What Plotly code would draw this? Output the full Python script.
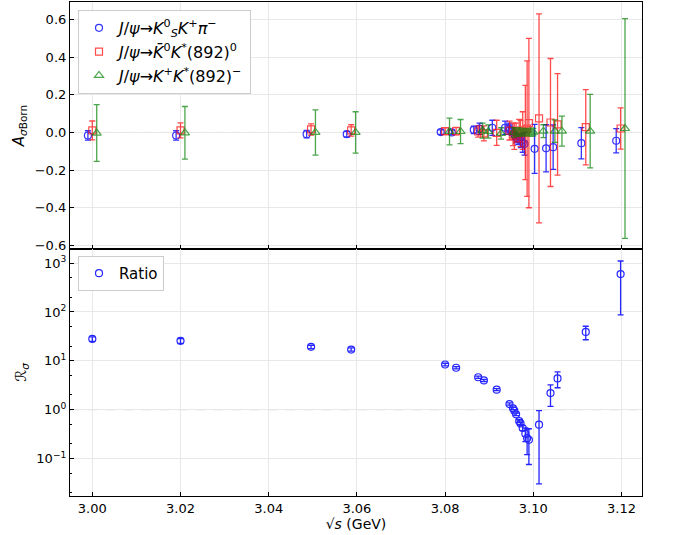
import plotly.graph_objects as go
from plotly.subplots import make_subplots

# DATA

energies = [3.0000, 3.0200, 3.0496, 3.0587, 3.0800, 3.0825, 3.0875, 3.0888, 3.0917,
            3.0946, 3.0954, 3.0957, 3.0961, 3.0968, 3.0971, 3.0976, 3.0982, 3.0986,
            3.0990, 3.1013, 3.1039, 3.1055, 3.1119, 3.1198]

asym_kskpi = [-0.016, -0.016, -0.009, -0.009, 0.002, 0.0, 0.014, 0.02, 0.025,
              0.025, 0.02, 0.015, 0.005, -0.015, -0.03, -0.035, -0.045, -0.055,
              -0.06, -0.087, -0.084, -0.078, -0.057, -0.044]
err_kskpi = [0.025, 0.025, 0.02, 0.015, 0.012, 0.012, 0.02, 0.03, 0.04,
             0.035, 0.03, 0.025, 0.02, 0.02, 0.025, 0.03, 0.035, 0.05,
             0.06, 0.13, 0.125, 0.118, 0.083, 0.064]

asym_k0kst0 = [0.011, 0.011, 0.016, 0.011, 0.007, 0.007, 0.005, -0.005, -0.002,
               0.01, -0.01, -0.02, 0.0, 0.01, -0.005, 0.01, 0.0, 0.02,
               0.05, 0.075, 0.053, 0.043, 0.028, 0.021]
err_k0kst0 = [0.05, 0.04, 0.03, 0.03, 0.018, 0.02, 0.03, 0.04, 0.067,
              0.05, 0.06, 0.07, 0.05, 0.06, 0.07, 0.1, 0.25, 0.36,
              0.45, 0.555, 0.34, 0.27, 0.2, 0.11]

asym_kpkstm = [-0.003, -0.002, 0.0, 0.0, 0.005, 0.005, 0.01, 0.005, -0.005,
               0.0, 0.005, 0.0, 0.003, 0.0, 0.002, 0.0, 0.003, 0.0,
               0.002, 0.007, 0.007, 0.007, 0.007, 0.021]
err_kpkstm = [0.151, 0.14, 0.12, 0.11, 0.071, 0.064, 0.04, 0.035, 0.03,
              0.025, 0.02, 0.02, 0.02, 0.018, 0.018, 0.018, 0.018, 0.02,
              0.02, 0.034, 0.06, 0.08, 0.195, 0.584]

ratio = [28, 25.6, 19.3, 17, 8.4, 7.2, 4.6, 3.96, 2.56,
         1.30, 1.06, 0.95, 0.80, 0.58, 0.52, 0.42, 0.32, 0.26,
         0.24, 0.49, 2.18, 4.35, 39, 597]
ratio_err = [3, 3, 1.5, 1.3, 0.5, 0.4, 0.25, 0.2, 0.12,
             0.07, 0.06, 0.05, 0.05, 0.04, 0.04, 0.05, 0.1, 0.14,
             0.165, 0.46, 1.02, 1.55, 12, 510]

log_tickvals = [0.1, 1, 10, 100, 1000]
log_ticktext = ['10<sup>−1</sup>', '10<sup>0</sup>', '10<sup>1</sup>', '10<sup>2</sup>', '10<sup>3</sup>']

shift = 0.001
series = [
    ('<i>J</i>/<i>ψ</i>→<i>K</i><sup>0</sup><sub><i>S</i></sub><i>K</i><sup>+</sup><i>π</i><sup>−</sup>',
     -shift, asym_kskpi, err_kskpi, 'blue', 'circle-open', 7, 0.8),
    ('<i>J</i>/<i>ψ</i>→<i>K̄</i><sup>0</sup><i>K</i><sup>*</sup>(892)<sup>0</sup>',
     0.0, asym_k0kst0, err_k0kst0, 'red', 'square-open', 7, 0.7),
    ('<i>J</i>/<i>ψ</i>→<i>K</i><sup>+</sup><i>K</i><sup>*</sup>(892)<sup>−</sup>',
     shift, asym_kpkstm, err_kpkstm, 'green', 'triangle-up-open', 8, 0.7),
]

FONT = 'DejaVu Sans'

fig = make_subplots(rows=2, cols=1, shared_xaxes=True, vertical_spacing=0)

for name, dx, vals, errs, col, sym, size, op in series:
    fig.add_trace(go.Scatter(
        x=[e + dx for e in energies], y=vals, mode='markers', name=name,
        marker=dict(symbol=sym, size=size, color=col, line=dict(width=1.2, color=col)),
        error_y=dict(type='data', array=errs, visible=True, color=col, thickness=1.3, width=3),
        opacity=op, legend='legend',
    ), row=1, col=1)

fig.add_trace(go.Scatter(
    x=energies, y=ratio, mode='markers', name='Ratio',
    marker=dict(symbol='circle-open', size=7, color='blue', line=dict(width=1.2, color='blue')),
    error_y=dict(type='data', array=ratio_err, visible=True, color='blue', thickness=1.3, width=3),
    opacity=0.85, legend='legend2',
), row=2, col=1)

# reference lines
fig.add_shape(type='line', xref='x domain', yref='y', x0=0, x1=1, y0=0, y1=0,
              line=dict(color='gray', width=1, dash='dash'), layer='below')
fig.add_shape(type='line', xref='x2 domain', yref='y2', x0=0, x1=1, y0=1, y1=1,
              line=dict(color='gray', width=1, dash='dash'), layer='below')

axis_style = dict(showline=True, linecolor='black', linewidth=1.2, mirror=True,
                  ticks='inside', ticklen=4, tickcolor='black', showgrid=True,
                  gridcolor='#e8e8e8', zeroline=False,
                  tickfont=dict(family=FONT, size=13, color='black'))

fig.update_xaxes(**axis_style, range=[2.99494, 3.12465], dtick=0.02, tickformat='.2f')
fig.update_xaxes(showticklabels=False, row=1, col=1)
fig.update_xaxes(title=dict(text='√<i>s</i> (GeV)', font=dict(family=FONT, size=14), standoff=2),
                 row=2, col=1)

fig.update_yaxes(**axis_style)
fig.update_yaxes(range=[-0.619, 0.693], dtick=0.2, tickformat='.1f',
                 title=dict(text='<i>A</i><sub><i>σ</i>Born</sub>', font=dict(family=FONT, size=15), standoff=6),
                 row=1, col=1)
fig.update_yaxes(type='log', range=[-1.77, 3.29], tickvals=log_tickvals, ticktext=log_ticktext,
                 minor=dict(ticks='inside', ticklen=2, tickcolor='black', showgrid=False),
                 title=dict(text='<i>ℛ</i><sub><i>σ</i></sub>', font=dict(family=FONT, size=15), standoff=6),
                 row=2, col=1)

fig.update_layout(
    width=673, height=535,
    margin=dict(l=70, r=31, t=2, b=39),
    paper_bgcolor='white', plot_bgcolor='white',
    font=dict(family=FONT, size=13, color='black'),
    legend=dict(x=0.014, y=0.984, xanchor='left', yanchor='top', bgcolor='white',
                bordercolor='#cccccc', borderwidth=1, font=dict(family=FONT, size=16)),
    legend2=dict(x=0.014, y=0.486, xanchor='left', yanchor='top', bgcolor='white',
                 bordercolor='#cccccc', borderwidth=1, font=dict(family=FONT, size=15)),
    showlegend=True,
)

fig.write_html("out.html", config={'displayModeBar': False},
               post_script="document.body.style.margin='0';")
